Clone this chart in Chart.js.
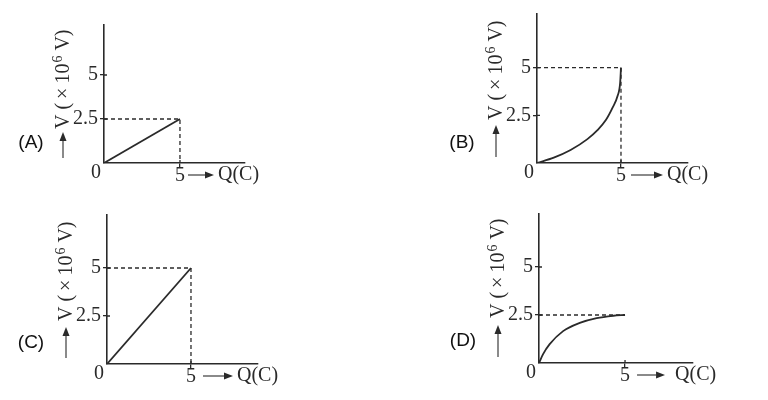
<!DOCTYPE html>
<html>
<head>
<meta charset="utf-8">
<script src="https://cdn.jsdelivr.net/npm/chart.js@4.4.0/dist/chart.umd.min.js"></script>
<style>
  html, body { margin: 0; padding: 0; background: #fff; }
  #wrap { position: relative; width: 768px; height: 400px; }
  canvas { position: absolute; }
</style>
</head>
<body>
<div id="wrap">
  <canvas id="cA" width="384" height="200" style="left:0;top:0"></canvas>
  <canvas id="cB" width="384" height="200" style="left:384px;top:0"></canvas>
  <canvas id="cC" width="384" height="200" style="left:0;top:200px"></canvas>
  <canvas id="cD" width="384" height="200" style="left:384px;top:200px"></canvas>
</div>
<script>
// tick labels (same on all four graphs)
const xTicks = [5];
const yTicks = [2.5, 5];

// (A) straight line up to 2.5
const qA = [0, 5];
const vA = [0, 2.5];
const guideQA = [0, 5, 5];
const guideVA = [2.5, 2.5, 0];

// (B) curve bending up to 5
const qB = [0, 1, 2, 3, 3.6, 4.1, 4.5, 4.8, 4.95, 5];
const vB = [0, 0.28, 0.68, 1.25, 1.72, 2.25, 2.9, 3.52, 4.2, 5];
const guideQB = [0, 5, 5];
const guideVB = [5, 5, 0];

// (C) straight line up to 5
const qC = [0, 5];
const vC = [0, 5];
const guideQC = [0, 5, 5];
const guideVC = [5, 5, 0];

// (D) curve levelling off at 2.5
const qD = [0, 0.23, 0.62, 1.4, 2.37, 3.35, 4.32, 5];
const vD = [0, 0.45, 0.98, 1.66, 2.09, 2.34, 2.46, 2.5];
const guideQD = [0, 5];
const guideVD = [2.5, 2.5];

const ink = '#2a2a2a';
const serif = '"Liberation Serif", "DejaVu Serif", serif';

const panels = [
    { id: 'cA', tag: '(A)', q: qA, v: vA, gq: guideQA, gv: guideVA, smooth: false,
      area: { left: 104, top: 25, right: 245, bottom: 163 }, xMax: 9.28, yMax: 7.84,
      yArrow: [5, 31, 34], xArrow: [8, 34, 38], tagPos: [31, 143] },
    { id: 'cB', tag: '(B)', q: qB, v: vB, gq: guideQB, gv: guideVB, smooth: true,
      area: { left: 153, top: 13, right: 304, bottom: 163 }, xMax: 8.99, yMax: 7.81,
      yArrow: [6, 38, 43], xArrow: [10, 42, 46], tagPos: [78, 143] },
    { id: 'cC', tag: '(C)', q: qC, v: vC, gq: guideQC, gv: guideVC, smooth: false,
      area: { left: 107, top: 15, right: 258, bottom: 164 }, xMax: 8.99, yMax: 7.76,
      yArrow: [6, 37, 43], xArrow: [12, 42, 46], tagPos: [31, 143] },
    { id: 'cD', tag: '(D)', q: qD, v: vD, gq: guideQD, gv: guideVD, smooth: true,
      area: { left: 155, top: 11, right: 309, bottom: 163 }, xMax: 8.95, yMax: 7.76,
      yArrow: [6, 38, 45], xArrow: [12, 40, 50], tagPos: [79, 141] }
];

function arrow(ctx, x1, y1, x2, y2) {
    const ang = Math.atan2(y2 - y1, x2 - x1);
    const hl = 9, hw = 3.5;
    const c = Math.cos(ang), s = Math.sin(ang);
    ctx.beginPath();
    ctx.moveTo(x1, y1);
    ctx.lineTo(x2 - hl * c, y2 - hl * s);
    ctx.stroke();
    ctx.beginPath();
    ctx.moveTo(x2, y2);
    ctx.lineTo(x2 - hl * c - hw * s, y2 - hl * s + hw * c);
    ctx.lineTo(x2 - hl * c + hw * s, y2 - hl * s - hw * c);
    ctx.closePath();
    ctx.fill();
}

// extra labels: origin 0, axis names with arrows, panel tag
const decor = {
    id: 'decor',
    afterDraw(chart, args, opts) {
        const { ctx, chartArea: a, scales: { x, y } } = chart;
        const p = opts.panel;
        ctx.save();
        ctx.fillStyle = ink;
        ctx.strokeStyle = ink;
        ctx.lineWidth = 1.3;

        // inner half of the tick marks
        ctx.beginPath();
        yTicks.forEach(v => {
            const py = y.getPixelForValue(v);
            ctx.moveTo(a.left, py);
            ctx.lineTo(a.left + 3, py);
        });
        xTicks.forEach(v => {
            const px = x.getPixelForValue(v);
            ctx.moveTo(px, a.bottom);
            ctx.lineTo(px, a.bottom - 3);
        });
        ctx.stroke();

        ctx.font = '20px ' + serif;
        ctx.textAlign = 'center';
        ctx.textBaseline = 'middle';
        ctx.fillText('0', a.left - 8, a.bottom + 10);

        // x axis name
        ctx.lineWidth = 1.1;
        const x5 = x.getPixelForValue(5);
        const ya = a.bottom + 12;
        arrow(ctx, x5 + p.xArrow[0], ya, x5 + p.xArrow[1], ya);
        ctx.textAlign = 'left';
        ctx.fillText('Q(C)', x5 + p.xArrow[2], ya);

        // y axis name, rotated
        const lx = a.left - 41;
        arrow(ctx, lx, a.bottom - p.yArrow[0], lx, a.bottom - p.yArrow[1]);
        ctx.translate(lx, a.bottom - p.yArrow[2]);
        ctx.rotate(-Math.PI / 2);
        ctx.textAlign = 'left';
        ctx.textBaseline = 'middle';
        ctx.font = '20px ' + serif;
        const t = 'V (\u2009\u00d7\u200910';
        ctx.fillText(t, 0, 1);
        let w = ctx.measureText(t).width;
        ctx.font = '14px ' + serif;
        ctx.fillText('6', w + 1, -5);
        w += ctx.measureText('6').width + 1;
        ctx.font = '20px ' + serif;
        ctx.fillText(' V)', w, 1);
        ctx.restore();

        ctx.save();
        ctx.fillStyle = '#111';
        ctx.font = '19px "Liberation Sans", Arial, sans-serif';
        ctx.textAlign = 'center';
        ctx.textBaseline = 'middle';
        ctx.fillText(p.tag, p.tagPos[0], p.tagPos[1]);
        ctx.restore();
    }
};

panels.forEach(p => {
    const pts = p.q.map((q, i) => ({ x: q, y: p.v[i] }));
    const guide = p.gq.map((q, i) => ({ x: q, y: p.gv[i] }));
    new Chart(document.getElementById(p.id).getContext('2d'), {
        type: 'line',
        data: {
            datasets: [
                {
                    data: guide,
                    borderColor: ink,
                    borderWidth: 1.3,
                    borderDash: [4, 3],
                    pointRadius: 0,
                    tension: 0
                },
                {
                    data: pts,
                    borderColor: ink,
                    borderWidth: 1.8,
                    pointRadius: 0,
                    cubicInterpolationMode: p.smooth ? 'monotone' : 'default',
                    tension: 0
                }
            ]
        },
        options: {
            responsive: false,
            animation: false,
            devicePixelRatio: 1,
            layout: {
                padding: {
                    left: p.area.left - 40,
                    top: p.area.top,
                    right: 384 - p.area.right,
                    bottom: 200 - p.area.bottom - 30
                }
            },
            plugins: {
                legend: { display: false },
                tooltip: { enabled: false },
                decor: { panel: p }
            },
            scales: {
                x: {
                    type: 'linear',
                    min: 0,
                    max: p.xMax,
                    afterBuildTicks: s => { s.ticks = xTicks.map(v => ({ value: v })); },
                    afterFit: s => { s.height = 30; },
                    grid: { drawOnChartArea: false, drawTicks: true, tickLength: 4, color: ink, lineWidth: 1.3 },
                    border: { display: true, color: ink, width: 1.6 },
                    ticks: { color: ink, padding: -3, font: { family: serif, size: 20 }, callback: v => String(v) }
                },
                y: {
                    type: 'linear',
                    min: 0,
                    max: p.yMax,
                    afterBuildTicks: s => { s.ticks = yTicks.map(v => ({ value: v })); },
                    afterFit: s => { s.width = 40; },
                    grid: { drawOnChartArea: false, drawTicks: true, tickLength: 4, color: ink, lineWidth: 1.3 },
                    border: { display: true, color: ink, width: 1.6 },
                    ticks: { color: ink, padding: 2, font: { family: serif, size: 20 }, callback: v => String(v) }
                }
            }
        },
        plugins: [decor]
    });
});
</script>
</body>
</html>
